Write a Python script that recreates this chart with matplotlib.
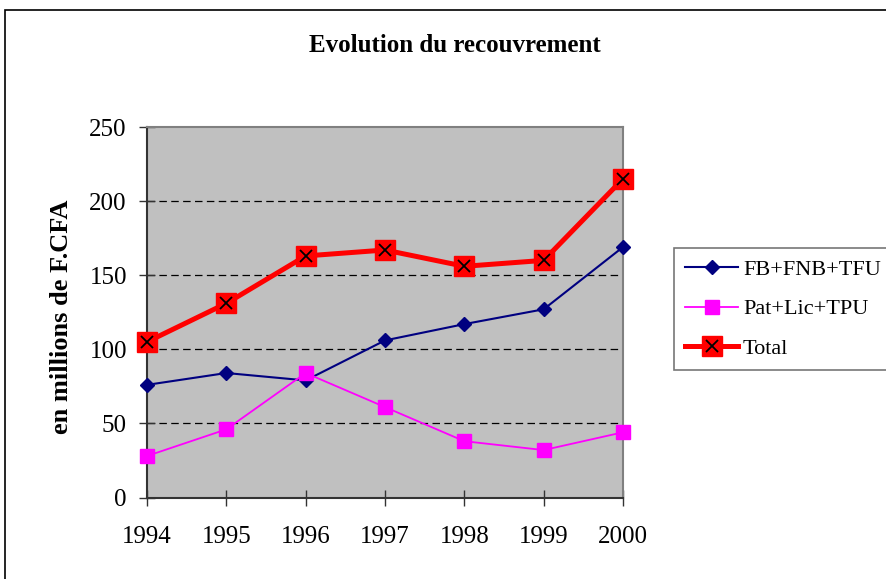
import matplotlib
matplotlib.use('Agg')
import matplotlib.pyplot as plt
from matplotlib.patches import Rectangle

years = [1994, 1995, 1996, 1997, 1998, 1999, 2000]
fb_fnb_tfu = [76, 84, 79, 106, 117, 127, 169]
pat_lic_tpu = [28, 46, 84, 61, 38, 32, 44]
total = [105, 131, 163, 167, 156, 160, 215]

y_ticks = [0, 50, 100, 150, 200, 250]

plt.rcParams['font.family'] = ['Liberation Serif', 'DejaVu Serif']

fig = plt.figure(figsize=(8.87, 5.79), dpi=100)
W, H = 887, 579

# outer chart frame (cut at right / bottom like the reference)
fig.patches.append(Rectangle((5 / W, -0.1), 1.0, 1 - 10 / H + 0.1,
                             transform=fig.transFigure, fill=False,
                             edgecolor='black', linewidth=1.2))

ax = fig.add_axes([147 / W, 1 - 497.5 / H, (623 - 147) / W, (497.5 - 127) / H])
ax.set_facecolor('#C0C0C0')

for y in y_ticks[1:-1]:
    ax.axhline(y, color='black', linewidth=0.9, linestyle=(0, (6, 3.5)), zorder=1)

l1, = ax.plot(years, fb_fnb_tfu, color='#000080', linewidth=1.5,
              marker='D', markersize=7, label='FB+FNB+TFU', zorder=3, clip_on=False)
l2, = ax.plot(years, pat_lic_tpu, color='#FF00FF', linewidth=1.3,
              marker='s', markersize=9.5, label='Pat+Lic+TPU', zorder=3, clip_on=False)
l3, = ax.plot(years, total, color='#FF0000', linewidth=3.6,
              marker='s', markersize=15, label='Total', zorder=4, clip_on=False)
l3x, = ax.plot(years, total, color='black', linestyle='none',
               marker='x', markersize=9, markeredgewidth=1.3, zorder=5, clip_on=False)

ax.set_xlim(1994, 2000)
ax.set_ylim(0, 250)
ax.set_xticks(years)
ax.set_yticks(y_ticks)
ax.tick_params(axis='both', direction='inout', length=11, width=1.0,
               labelsize=18, color='#333333')
ax.tick_params(axis='y', pad=9)
ax.tick_params(axis='x', pad=15)

for side in ['left', 'bottom']:
    ax.spines[side].set_color('#333333')
    ax.spines[side].set_linewidth(1.5)
for side in ['top', 'right']:
    ax.spines[side].set_color('#808080')
    ax.spines[side].set_linewidth(1.5)

fig.text(455 / W, 1 - 45 / H, 'Evolution du recouvrement', ha='center', va='center',
         fontsize=18, fontweight='bold')
fig.text(62 / W, 1 - 317 / H, 'en millions de F.CFA', ha='center', va='center',
         rotation=90, fontsize=19, fontweight='bold')

leg = fig.legend([l1, l2, (l3, l3x)], ['FB+FNB+TFU', 'Pat+Lic+TPU', 'Total'],
                 loc='upper left', bbox_to_anchor=(674 / W, 1 - 248 / H),
                 borderaxespad=0, fontsize=16, numpoints=1, handlelength=2.4,
                 handletextpad=0.2, borderpad=0.5, labelspacing=0.86,
                 fancybox=False, frameon=True)
leg.get_frame().set_edgecolor('#555555')
leg.get_frame().set_linewidth(1.2)

fig.savefig('out.png', dpi=100)
plt.close(fig)
